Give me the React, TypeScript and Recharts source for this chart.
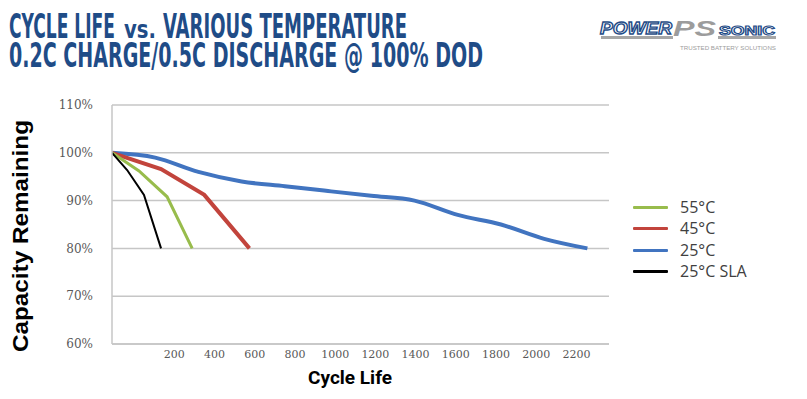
import React from 'react';
import { LineChart, Line, XAxis, YAxis, CartesianGrid } from 'recharts';

// ---- data (cycles, % capacity remaining) ----
const blueCycles = [0, 200, 400, 600, 800, 1000, 1200, 1400, 1600, 1800, 2000, 2200];
const blueValues = [100, 99, 96, 94, 93, 92, 91, 90, 87, 85, 82, 80];
const redCycles = [0, 227, 427, 636];
const redValues = [100, 96.6, 91.2, 80];
const greenCycles = [0, 125, 255, 371];
const greenValues = [100, 96.2, 90.8, 80];
const slaCycles = [0, 70, 148, 227];
const slaValues = [100, 96.4, 91.2, 80];

const xTickLabels = [200, 400, 600, 800, 1000, 1200, 1400, 1600, 1800, 2000, 2200];
const yTickValues = [60, 70, 80, 90, 100, 110];

const legendNames = ['55°C', '45°C', '25°C', '25°C SLA'];
const legendColors = ['#98BC4C', '#C2443C', '#4174C0', '#000000'];

const zip = (xs: number[], ys: number[]) => xs.map((x, i) => ({ x, y: ys[i] }));

const blueData = zip(blueCycles, blueValues);
const redData = zip(redCycles, redValues);
const greenData = zip(greenCycles, greenValues);
const slaData = zip(slaCycles, slaValues);
// tick positions for the (separately scaled) label axis of the original image
const tickAnchorData = xTickLabels.map((x) => ({ x }));

const TITLE_BLUE = '#1F4C87';
const TITLE_FONT = "'Liberation Sans Narrow', 'DejaVu Sans Condensed', Roboto, 'Liberation Sans', sans-serif";

export default function App() {
  return (
    <div
      style={{
        position: 'absolute',
        left: 0,
        top: 0,
        width: 807,
        height: 399,
        background: '#ffffff',
        overflow: 'hidden',
      }}
    >
      <LineChart
        width={807}
        height={399}
        margin={{ top: 105, right: 198, bottom: 25, left: 0 }}
      >
        <CartesianGrid
          xAxisId="data"
          vertical={false}
          stroke="#C6C6C6"
          strokeWidth={1.5}
        />
        <XAxis
          xAxisId="data"
          type="number"
          dataKey="x"
          domain={[0, 2300]}
          allowDataOverflow
          height={0}
          hide
        />
        <XAxis
          xAxisId="labels"
          type="number"
          dataKey="x"
          domain={[-110, 2362]}
          ticks={xTickLabels}
          allowDataOverflow
          height={30}
          tickSize={0}
          tickMargin={6}
          tickLine={false}
          axisLine={{ stroke: '#C6C6C6', strokeWidth: 1.5 }}
          tick={{ fill: '#595959', fontSize: 11, fontFamily: "'DejaVu Serif', 'Liberation Serif', serif" }}
        />
        <YAxis
          type="number"
          dataKey="y"
          domain={[60, 110]}
          ticks={yTickValues}
          width={112}
          tickSize={0}
          tickMargin={19}
          tickLine={false}
          axisLine={{ stroke: '#C6C6C6', strokeWidth: 1.5 }}
          tickFormatter={(v: number) => `${v}%`}
          tick={{ fill: '#595959', fontSize: 12, fontFamily: "'DejaVu Serif', 'Liberation Serif', serif" }}
        />
        <Line
          xAxisId="labels"
          data={tickAnchorData}
          dataKey="y"
          stroke="none"
          dot={false}
          activeDot={false}
          legendType="none"
          isAnimationActive={false}
        />
        <Line
          xAxisId="data"
          data={blueData}
          dataKey="y"
          type="monotone"
          stroke={legendColors[2]}
          strokeWidth={4}
          dot={false}
          isAnimationActive={false}
        />
        <Line
          xAxisId="data"
          data={redData}
          dataKey="y"
          type="linear"
          stroke={legendColors[1]}
          strokeWidth={4}
          dot={false}
          isAnimationActive={false}
        />
        <Line
          xAxisId="data"
          data={greenData}
          dataKey="y"
          type="linear"
          stroke={legendColors[0]}
          strokeWidth={3}
          dot={false}
          isAnimationActive={false}
        />
        <Line
          xAxisId="data"
          data={slaData}
          dataKey="y"
          type="linear"
          stroke={legendColors[3]}
          strokeWidth={2}
          dot={false}
          isAnimationActive={false}
        />
      </LineChart>

      {/* overlay texts */}
      <svg
        width={807}
        height={399}
        style={{ position: 'absolute', left: 0, top: 0, pointerEvents: 'none' }}
      >
        {/* title */}
        <text x={9} y={38} fill={TITLE_BLUE} fontFamily={TITLE_FONT} fontWeight="bold"
          fontSize={33} textLength={106} lengthAdjust="spacingAndGlyphs">
          CYCLE LIFE
        </text>
        <text x={124} y={38} fill={TITLE_BLUE} fontFamily={TITLE_FONT} fontWeight="bold"
          fontSize={25} textLength={32} lengthAdjust="spacingAndGlyphs">
          vs.
        </text>
        <text x={163} y={38} fill={TITLE_BLUE} fontFamily={TITLE_FONT} fontWeight="bold"
          fontSize={33} textLength={244} lengthAdjust="spacingAndGlyphs">
          VARIOUS TEMPERATURE
        </text>
        <text x={9} y={67} fill={TITLE_BLUE} fontFamily={TITLE_FONT} fontWeight="bold"
          fontSize={33} textLength={474} lengthAdjust="spacingAndGlyphs">
          0.2C CHARGE/0.5C DISCHARGE @ 100% DOD
        </text>

        {/* logo */}
        <rect x={601} y={36} width={72} height={3} fill="#A6A6A6" />
        <rect x={718} y={36} width={58} height={3} fill="#A6A6A6" />
        <text x={600} y={34} fill="#ffffff" stroke={TITLE_BLUE} strokeWidth={1.3}
          fontFamily="'Liberation Sans', sans-serif" fontStyle="italic" fontWeight="bold"
          fontSize={17} textLength={72} lengthAdjust="spacingAndGlyphs">
          POWER
        </text>
        <text x={673} y={36} fill="#9C9C9C" fontFamily="'Liberation Sans', sans-serif"
          fontStyle="italic" fontWeight="bold" fontSize={22} textLength={43}
          lengthAdjust="spacingAndGlyphs">
          PS
        </text>
        <text x={719} y={35} fill="#ffffff" stroke={TITLE_BLUE} strokeWidth={1.1}
          fontFamily="'Liberation Sans', sans-serif" fontWeight="bold" fontSize={13}
          textLength={56} lengthAdjust="spacingAndGlyphs">
          SONIC
        </text>
        <text x={680} y={50} fill="#9C9C9C" fontFamily="'Liberation Sans', sans-serif"
          fontSize={6} textLength={96} lengthAdjust="spacingAndGlyphs">
          TRUSTED BATTERY SOLUTIONS
        </text>

        {/* axis titles */}
        <text
          x={0}
          y={0}
          transform="translate(28 236) rotate(-90)"
          textAnchor="middle"
          fill="#000000"
          fontFamily="'Liberation Sans', sans-serif"
          fontWeight="bold"
          fontSize={22}
          textLength={232}
          lengthAdjust="spacingAndGlyphs"
        >
          Capacity Remaining
        </text>
        <text
          x={350}
          y={384}
          textAnchor="middle"
          fill="#000000"
          fontFamily="Roboto, 'Liberation Sans', sans-serif"
          fontWeight="bold"
          fontSize={19}
        >
          Cycle Life
        </text>
      </svg>

      {/* legend */}
      <div style={{ position: 'absolute', left: 633, top: 197 }}>
        {legendNames.map((name, i) => (
          <div
            key={name}
            style={{ display: 'flex', alignItems: 'center', height: 21.3 }}
          >
            <div
              style={{
                width: 35,
                height: 3,
                background: legendColors[i],
                borderRadius: 1,
                marginRight: 12,
              }}
            />
            <span
              style={{
                fontFamily: "'Open Sans', sans-serif",
                fontSize: 16,
                color: '#404040',
                lineHeight: '21px',
                whiteSpace: 'nowrap',
              }}
            >
              {name}
            </span>
          </div>
        ))}
      </div>
    </div>
  );
}
